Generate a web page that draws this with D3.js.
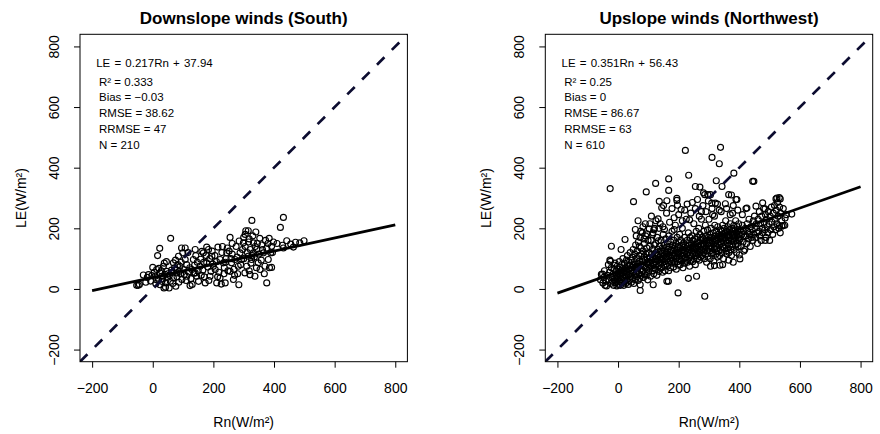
<!DOCTYPE html>
<html>
<head>
<meta charset="utf-8">
<script src="https://cdn.jsdelivr.net/npm/d3@7"></script>
<style>
  body { margin: 0; background: #fff; }
  svg text { font-family: "Liberation Sans", Arial, Helvetica, sans-serif; fill: #000; }
</style>
</head>
<body>
<div id="chart"></div>
<script>
// Axis ticks (same on both panels)
const axisLimits = [-240, 840];
const xTicks = [-200, 0, 200, 400, 600, 800];
const yTicks = [-200, 0, 200, 400, 600, 800];
const fitRange = [-200, 800];

// Downslope winds (South): [Rn, LE]
const southPoints = [
  [-53,12],[-48,12],[-44,15],[-31,46],[-14,47],[-23,22],[-7,26],[0,71],[-3,44],[-18,38],
  [23,134],[16,110],[13,64],[24,53],[33,33],[37,3],[24,14],[43,20],[31,42],[46,58],[19,31],[8,42],
  [35,75],[5,55],[28,60],[40,48],[12,30],[48,38],[20,68],[42,6],[30,25],[50,50],[38,85],[10,18],
  [59,167],[68,86],[76,9],[54,3],[90,75],[96,31],[79,53],[107,97],[112,42],[101,64],[68,36],[85,108],
  [99,119],[55,45],[62,62],[72,70],[80,40],[88,58],[94,88],[58,25],[66,18],[83,80],[75,95],[92,50],[64,55],[86,22],
  [107,135],[123,11],[129,64],[134,97],[145,42],[112,80],[118,56],[126,34],[138,78],[142,110],[150,60],
  [104,48],[116,120],[130,15],[147,88],[122,70],[136,52],[110,28],
  [156,75],[167,119],[151,25],[140,53],[178,86],[162,124],[184,130],[189,42],[173,20],[195,108],[158,98],
  [165,62],[170,40],[182,72],[188,100],[192,58],[176,110],[160,45],[198,82],[168,88],[185,28],
  [200,75],[211,20],[206,64],[222,97],[215,138],[244,119],[233,86],[222,36],[239,20],[205,110],[218,55],
  [228,120],[236,70],[242,100],[210,90],[226,16],[248,60],[214,40],[230,140],[246,135],[240,88],
  [255,170],[255,58],[266,31],[271,97],[282,75],[284,14],[260,86],[288,119],[299,152],[293,97],[262,115],
  [275,140],[280,50],[268,65],[290,80],[296,130],[258,100],[285,158],[278,105],[252,125],
  [307,192],[315,192],[327,226],[340,188],[332,152],[343,130],[326,97],[354,64],[337,42],[321,47],[348,86],
  [332,119],[310,75],[304,53],[315,108],[305,140],[318,165],[322,130],[330,175],[335,105],[345,150],[312,120],
  [324,85],[338,140],[300,100],[328,110],[342,70],[316,155],[350,115],
  [353,167],[384,167],[398,155],[376,20],[392,71],[370,75],[381,97],[365,119],[389,119],[392,141],[376,135],
  [360,145],[372,160],[385,70],[395,120],[358,95],[380,150],[368,50],[362,130],
  [431,236],[421,203],[442,159],[471,154],[499,159],[464,138],[428,144],[431,135],[410,150],[455,148],[485,152],
  [140,130],[196,125],[262,150],[300,170],[305,180],[318,60],[270,45],[235,50],[45,90],[95,135],[178,138]
];

// Upslope winds (Northwest): [Rn, LE]
const northwestPoints = [
  [222,457],[338,467],[310,434],[334,413],[382,382],[444,355],[448,355],[-26,331],[93,320],[233,375],
  [167,363],[124,348],[324,357],[343,338],[167,325],[51,288],[136,289],[161,291],[194,299],[196,276],
  [144,268],[255,338],[270,336],[286,311],[305,311],[309,283],[321,283],[374,310],[389,295],[354,281],
  [422,265],[477,284],[521,297],[532,301],[535,297],[573,247],[551,234],[535,185],[540,207],[485,264],
  [455,273],[402,99],[336,78],[305,75],[365,95],[259,42],[232,35],[198,-13],[286,-24],[73,-5],
  [-22,141],[-25,91],[10,130],[70,141],[103,198],[66,225],[57,196],[23,163],[133,159],[153,196],
  [139,215],[114,179],[86,165],[185,196],[-51,49],[-43,12],[73,14],[166,25],[132,231],[194,292],
  [282,317],[296,311],[532,209],[545,209],[524,300],[425,267],[392,295],[365,311],[116,14],[161,25],
  [485,160],[318,77],[345,80],[380,88],[400,112],[415,125],
  [60,175],[75,190],[82,205],[95,182],[105,215],[118,195],[125,225],[148,205],[160,250],[170,220],
  [178,265],[185,235],[200,245],[212,225],[220,260],[228,280],[240,250],[245,285],[255,265],[262,295],
  [268,240],[280,275],[290,255],[298,290],[310,265],[318,240],[328,280],[340,255],[358,265],[370,245],
  [380,275],[395,260],[410,245],[90,215],[110,240],[150,275],[120,200],[208,262],[236,228],[275,230],
  [-58,30],[-55,48],[-50,20],[-47,38],[-45,60],[-40,25],[-38,10],[-35,45],[-32,80],[-30,30],[-28,55],
  [-25,18],[-22,70],[-20,40],[-27,95],
  [-18,25],[-16,50],[-15,12],[-13,65],[-11,35],[-10,85],[-8,20],[-7,45],[-5,60],[-4,10],[-3,75],
  [-2,30],[0,52],[-1,40],[-12,78],
  [1,15],[2,65],[3,38],[4,90],[5,25],[6,50],[7,72],[8,12],[9,45],[10,60],[11,30],[12,80],[13,20],
  [14,55],[15,42],[16,100],[17,68],[18,35],[19,12],[20,58],
  [21,85],[22,25],[23,48],[24,70],[25,18],[26,62],[27,40],[28,95],[29,55],[30,30],[31,110],[32,75],
  [33,45],[34,15],[35,65],[36,88],[37,50],[38,28],[39,78],[40,120],
  [41,40],[42,60],[43,95],[44,22],[45,70],[46,50],[47,105],[48,35],[49,80],[50,130],[51,58],[52,18],
  [53,90],[54,45],[55,115],[56,68],[57,30],[58,145],[59,75],[60,52],
  [61,100],[62,40],[63,125],[64,62],[65,85],[66,28],[67,155],[68,72],[69,110],[70,50],[71,92],[72,35],
  [73,170],[74,65],[75,135],[76,80],[77,45],[78,115],[79,58],[80,185],
  [81,90],[82,60],[83,125],[84,38],[85,105],[86,75],[87,150],[88,50],[89,95],[90,70],[91,175],[92,115],
  [93,45],[94,85],[95,135],[96,65],[97,100],[98,30],[99,160],[100,80],
  [101,55],[102,120],[103,90],[104,140],[105,68],[106,105],[107,42],[108,85],[109,160],[110,75],[111,115],
  [112,95],[113,60],[114,130],[115,185],[116,82],[117,100],[118,50],[119,145],[120,70],
  [121,110],[122,90],[123,65],[124,150],[125,120],[126,80],[127,100],[128,45],[129,170],[130,95],[131,130],
  [132,75],[133,112],[134,58],[135,200],[136,88],[137,140],[138,105],[139,68],[140,125],
  [141,85],[142,160],[143,100],[144,70],[145,118],[146,135],[147,55],[148,95],[149,180],[150,110],[151,78],
  [152,145],[153,125],[154,90],[155,60],[156,105],[157,165],[158,120],[159,82],[160,138],
  [161,98],[162,75],[163,150],[164,115],[165,130],[166,88],[167,60],[168,175],[169,108],[170,140],[171,92],
  [172,120],[173,70],[174,155],[175,102],[176,130],[177,85],[178,190],[179,112],[180,145],
  [181,95],[182,125],[183,72],[184,160],[185,110],[186,135],[187,88],[188,118],[189,210],[190,100],[191,150],
  [192,65],[193,128],[194,105],[195,170],[196,90],[197,140],[198,115],[199,78],[200,155],
  [201,120],[202,98],[203,180],[204,135],[205,80],[206,112],[207,160],[208,125],[209,92],[210,145],[211,108],
  [212,200],[213,130],[214,70],[215,118],[216,150],[217,100],[218,138],[219,85],[220,170],
  [221,125],[222,105],[223,145],[224,95],[225,230],[226,132],[227,115],[228,160],[229,88],[230,140],[231,120],
  [232,185],[233,102],[234,150],[235,128],[236,75],[237,170],[238,112],[239,135],[240,95],
  [241,150],[242,125],[243,108],[244,175],[245,138],[246,90],[247,160],[248,118],[249,145],[250,215],[251,100],
  [252,132],[253,165],[254,120],[255,80],[256,148],[257,110],[258,190],[259,135],[260,155],
  [261,125],[262,100],[263,170],[264,140],[265,115],[266,200],[267,150],[268,95],[269,130],[270,180],[271,120],
  [272,160],[273,105],[274,142],[275,255],[276,128],[277,170],[278,110],[279,150],[280,135],
  [281,165],[282,120],[283,190],[284,145],[285,100],[286,158],[287,130],[288,210],[289,115],[290,175],[291,140],
  [292,88],[293,160],[294,125],[295,195],[296,150],[297,108],[298,170],[299,135],[300,230],
  [301,150],[302,125],[303,180],[304,100],[305,160],[306,140],[307,200],[308,115],[309,170],[310,135],[311,155],
  [312,245],[313,120],[314,185],[315,148],[316,92],[317,165],[318,130],[319,210],[320,158],
  [321,140],[322,175],[323,115],[324,160],[325,190],[326,135],[327,150],[328,105],[329,205],[330,168],[331,125],
  [332,180],[333,145],[334,260],[335,110],[336,170],[337,155],[338,195],[339,130],[340,175],
  [341,150],[342,190],[343,120],[344,165],[345,210],[346,140],[347,180],[348,100],[349,155],[350,200],[351,135],
  [352,170],[353,185],[354,145],[355,225],[356,125],[357,160],[358,190],[359,115],[360,175],
  [361,150],[362,205],[363,135],[364,180],[365,160],[366,120],[367,195],[368,170],[369,145],[370,215],[371,130],
  [372,185],[373,160],[374,110],[375,200],[376,175],[377,140],[378,250],[379,165],[380,190],
  [381,155],[382,210],[383,130],[384,180],[385,170],[386,195],[387,145],[388,225],[389,160],[390,185],[391,120],
  [392,175],[393,205],[394,150],[395,190],[396,140],[397,170],[398,215],[399,160],[400,180],
  [402,165],[404,195],[406,140],[408,180],[410,210],[412,155],[414,190],[416,172],[418,130],[420,200],
  [422,175],[424,150],[426,215],[428,190],[430,165],[432,230],[434,180],[436,140],[438,205],[440,170],
  [442,195],[444,160],[446,225],[448,180],[450,240],[452,200],[454,170],[456,215],[458,185],[460,150],
  [462,230],[464,190],[466,255],[468,175],[470,215],[472,160],[474,240],[476,200],[478,185],[480,265],
  [482,220],[484,195],[486,245],[488,170],[490,230],[492,205],[494,185],[496,255],[498,215],[500,160],
  [502,240],[504,195],[506,270],[508,220],[510,180],[512,250],[514,205],[516,275],[518,230],[520,195],
  [522,260],[524,215],[526,285],[528,240],[530,200],[533,270],[536,250],[540,225],[545,265],[550,210],[555,245]
];

// Fit coefficients [slope, intercept] and printed statistics
const southFit = [0.217, 37.94];
const northwestFit = [0.351, 56.43];
const southStats = ["R² = 0.333", "Bias = −0.03", "RMSE = 38.62", "RRMSE = 47", "N = 210"];
const northwestStats = ["R² = 0.25", "Bias = 0", "RMSE = 86.67", "RRMSE = 63", "N = 610"];

const width = 880, height = 434;
const plotSize = 327.4, plotTop = 34.3;

const svg = d3.select('#chart')
  .append('svg')
  .attr('width', width)
  .attr('height', height);

const fmt = d => d < 0 ? '−' + Math.abs(d) : String(d);

function drawPanel(left, title, points, fit, stats, id) {
  const x = d3.scaleLinear().domain(axisLimits).range([left, left + plotSize]);
  const y = d3.scaleLinear().domain(axisLimits).range([plotTop + plotSize, plotTop]);
  const g = svg.append('g');

  g.append('clipPath').attr('id', 'clip' + id)
    .append('rect')
    .attr('x', left).attr('y', plotTop)
    .attr('width', plotSize).attr('height', plotSize);

  // points
  g.append('g').selectAll('circle')
    .data(points)
    .enter()
    .append('circle')
    .attr('cx', d => x(d[0]))
    .attr('cy', d => y(d[1]))
    .attr('r', 3)
    .style('fill', 'none')
    .style('stroke', '#000')
    .style('stroke-width', 1.15);

  // 1:1 line
  g.append('line')
    .attr('clip-path', `url(#clip${id})`)
    .attr('x1', x(axisLimits[0])).attr('y1', y(axisLimits[0]))
    .attr('x2', x(axisLimits[1])).attr('y2', y(axisLimits[1]))
    .style('stroke', '#0c0c30')
    .style('stroke-width', 2.7)
    .style('stroke-dasharray', '10.5,10.5');

  // regression line
  g.append('line')
    .attr('x1', x(fitRange[0])).attr('y1', y(fit[0] * fitRange[0] + fit[1]))
    .attr('x2', x(fitRange[1])).attr('y2', y(fit[0] * fitRange[1] + fit[1]))
    .style('stroke', '#000')
    .style('stroke-width', 2.7);

  // box
  g.append('rect')
    .attr('x', left).attr('y', plotTop)
    .attr('width', plotSize).attr('height', plotSize)
    .style('fill', 'none')
    .style('stroke', '#000')
    .style('stroke-width', 1);

  // axes
  const xAxis = g.append('g')
    .attr('transform', `translate(0,${plotTop + plotSize})`)
    .call(d3.axisBottom(x).tickValues(xTicks).tickSize(6).tickSizeOuter(0).tickFormat(fmt));
  xAxis.select('.domain').remove();
  xAxis.selectAll('text')
    .attr('y', 31.8).attr('dy', null)
    .style('font-size', '14px');

  const yAxis = g.append('g')
    .attr('transform', `translate(${left},0)`)
    .call(d3.axisLeft(y).tickValues(yTicks).tickSize(6).tickSizeOuter(0).tickFormat(fmt));
  yAxis.select('.domain').remove();
  yAxis.selectAll('text')
    .attr('x', null).attr('dy', null)
    .attr('text-anchor', 'middle')
    .attr('transform', 'translate(-21,0) rotate(-90)')
    .style('font-size', '14px');
  g.selectAll('.tick line').style('stroke', '#000');

  // titles
  g.append('text')
    .attr('x', left + plotSize / 2).attr('y', 23.5)
    .attr('text-anchor', 'middle')
    .style('font-size', '17px').style('font-weight', 'bold')
    .text(title);

  g.append('text')
    .attr('x', left + plotSize / 2).attr('y', 427)
    .attr('text-anchor', 'middle')
    .style('font-size', '14px')
    .text('Rn(W/m²)');

  g.append('text')
    .attr('transform', `translate(${left - 54.2},${plotTop + plotSize / 2}) rotate(-90)`)
    .attr('text-anchor', 'middle')
    .style('font-size', '14px')
    .text('LE(W/m²)');

  // statistics
  g.append('text')
    .attr('x', left + 16.2).attr('y', 66.6)
    .style('font-size', '11.5px')
    .style('word-spacing', '1px')
    .text(`LE = ${fit[0]}Rn + ${fit[1]}`);

  g.selectAll('.stat')
    .data(stats)
    .enter()
    .append('text')
    .attr('class', 'stat')
    .attr('x', left + 19)
    .attr('y', (d, i) => 85.6 + i * 15.8)
    .style('font-size', '11.5px')
    .text(d => d);
}

drawPanel(80, 'Downslope winds (South)', southPoints, southFit, southStats, 'S');
drawPanel(545.3, 'Upslope winds (Northwest)', northwestPoints, northwestFit, northwestStats, 'NW');
</script>
</body>
</html>
